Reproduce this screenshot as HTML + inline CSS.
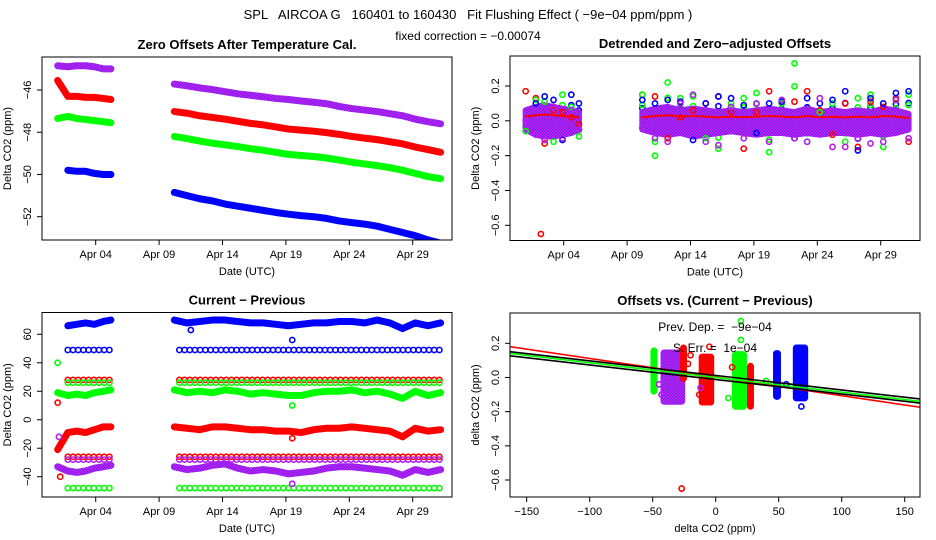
<!DOCTYPE html>
<html><head><meta charset="utf-8"><style>
html,body{margin:0;padding:0;background:#fff;}
svg{display:block;font-family:"Liberation Sans",sans-serif;}
svg text{white-space:pre;}
</style></head><body>
<svg id="c" width="936" height="540" viewBox="0 0 936 540">
<defs><pattern id="pur" width="3" height="3" patternUnits="userSpaceOnUse"><rect width="3" height="3" fill="#e020f0"/><rect width="1.5" height="1.5" fill="#6020f0"/><rect x="1.5" y="1.5" width="1.5" height="1.5" fill="#6020f0"/></pattern></defs>
</svg>
<script>
// ---- data ----
const T = [1.0,1.8,2.5,3.2,3.9,4.6,5.2, 10.2,11.2,12.2,13.2,14.2,15.2,16.2,17.2,18.2,19.2,20.2,21.2,22.2,23.2,24.2,25.2,26.2,27.2,28.2,29.2,30.2,31.2];
const off_purple = [-44.85,-44.9,-44.85,-44.85,-44.9,-45.0,-45.0, -45.72,-45.8,-45.9,-45.98,-46.08,-46.18,-46.25,-46.32,-46.4,-46.45,-46.52,-46.58,-46.65,-46.78,-46.88,-46.95,-47.02,-47.12,-47.22,-47.38,-47.5,-47.6];
const off_red = [-45.55,-46.3,-46.3,-46.35,-46.35,-46.4,-46.45, -47.02,-47.1,-47.22,-47.3,-47.38,-47.48,-47.58,-47.65,-47.75,-47.85,-47.9,-47.95,-48.02,-48.1,-48.2,-48.28,-48.35,-48.45,-48.55,-48.7,-48.82,-48.95];
const off_green = [-47.35,-47.25,-47.35,-47.4,-47.45,-47.5,-47.55, -48.2,-48.3,-48.42,-48.52,-48.6,-48.68,-48.78,-48.85,-48.95,-49.05,-49.1,-49.15,-49.22,-49.32,-49.42,-49.5,-49.58,-49.68,-49.8,-49.95,-50.1,-50.2];
const off_blue = [null,-49.8,-49.85,-49.85,-49.95,-50.0,-50.0, -50.85,-51.0,-51.15,-51.25,-51.4,-51.5,-51.6,-51.7,-51.8,-51.88,-51.95,-52.0,-52.08,-52.2,-52.28,-52.35,-52.45,-52.6,-52.75,-52.9,-53.1,-53.25];

const det_red = [0.17,0.13,-0.13,0.06,0.05,0.02,-0.02, 0.15,0.14,-0.1,0.02,0.06,0.1,0.14,0.05,-0.16,0.05,0.17,0.1,0.11,0.17,0.06,-0.08,0.1,-0.15,0.11,0.08,0.13,-0.12];
const det_green = [-0.06,0.12,0.11,-0.12,0.15,0.08,-0.09, 0.15,-0.2,0.22,0.13,0.14,-0.1,-0.16,0.1,0.13,0.16,-0.18,0.1,0.33,-0.12,0.05,0.1,-0.12,0.13,0.15,-0.15,0.12,0.15];
const det_blue = [null,0.1,0.14,0.12,-0.11,0.15,0.1, 0.12,0.1,0.12,0.11,-0.11,0.1,0.14,0.13,0.09,-0.07,0.1,0.11,-0.1,0.13,0.1,0.12,0.17,-0.17,0.13,0.1,0.16,0.17];
const det_purple = [0.0,-0.08,-0.11,0.08,-0.1,0.06,-0.05, -0.04,-0.1,-0.12,0.1,0.15,-0.12,-0.14,0.08,-0.1,0.1,-0.12,0.12,-0.1,-0.12,0.13,-0.15,-0.15,-0.1,-0.13,-0.12,0.12,-0.1];
const det_bandHi = [0.06,0.08,0.09,0.08,0.07,0.06,0.05, 0.05,0.07,0.08,0.06,0.07,0.06,0.05,0.06,0.05,0.06,0.07,0.06,0.05,0.07,0.05,0.06,0.05,0.06,0.05,0.07,0.06,0.04];
const det_bandLo = [-0.05,-0.08,-0.09,-0.09,-0.08,-0.07,-0.05, -0.05,-0.07,-0.08,-0.07,-0.09,-0.08,-0.07,-0.06,-0.07,-0.08,-0.07,-0.07,-0.08,-0.07,-0.08,-0.07,-0.07,-0.08,-0.07,-0.08,-0.07,-0.05];
const det_outX = [2.2];
const det_outY = [-0.65];

const cp_blue = [null,66,67,68,67,69,70, 70,68,69,70,70,69,68,68,67,66,67,68,68,69,69,68,70,68,64,68,66,68];
const cp_green = [19,17,18,17,19,20,21, 21,19,20,19,21,20,18,19,18,17,17,19,20,20,21,19,20,18,15,20,17,19];
const cp_red = [-21,-9,-8,-9,-7,-5,-5, -5,-6,-7,-5,-5,-6,-7,-7,-8,-8,-9,-7,-6,-6,-5,-6,-7,-8,-12,-6,-8,-7];
const cp_purple = [-33,-36,-37,-36,-34,-33,-32, -33,-35,-34,-32,-31,-34,-36,-35,-36,-38,-37,-36,-34,-33,-33,-34,-35,-36,-39,-35,-37,-35];
const cp_levels = [49,28,26,-26,-28,-48];
const cp_levelColors = ["#0000ff","#ff0000","#00ff00","#ff0000","#b020f0","#00ff00"];
const cp_segStart = [1.8,10.6];
const cp_segEnd = [5.2,31.2];
const cp_outX = [1.0,1.0,1.1,1.2,19.5,19.5,11.5,19.5,19.5];
const cp_outY = [40,12,-12,-40,56,10,63,-45,-13];
const cp_outC = ["#00ff00","#ff0000","#b020f0","#ff0000","#0000ff","#00ff00","#0000ff","#b020f0","#ff0000"];

const sc_xLo = [-51,-43,-27.5,-12.7,13.7,25.6,46.3,62];
const sc_xHi = [-47,-25,-23.6,-2,24,29.6,51,72.6];
const sc_yLo = [-0.095,-0.154,-0.02,-0.158,-0.183,-0.183,-0.125,-0.134];
const sc_yHi = [0.17,0.158,0.187,0.134,0.148,0.08,0.154,0.187];
const sc_colors = ["#00ff00","url(#pur)","#ff0000","#ff0000","#00ff00","#ff0000","#0000ff","#0000ff"];
const sc_outX = [-27,20,20,-5,-13,-12,-45,-43,68,40,10,-20,-22,13,56];
const sc_outY = [-0.65,0.33,0.22,0.18,-0.1,-0.06,-0.04,-0.1,-0.17,-0.02,-0.12,0.13,0.08,0.06,-0.04];
const sc_outC = ["#ff0000","#00ff00","#00ff00","#ff0000","#ff0000","#b020f0","#b020f0","#b020f0","#0000ff","#00ff00","#00ff00","#ff0000","#ff0000","#ff0000","#0000ff"];
const fit_slopes = [-0.00109,-0.00086,-0.00085,-0.00085];
const fit_ints = [0.0025,0.0,0.012,-0.012];
const fit_colors = ["#ff0000","#00ff00","#000000","#000000"];

const dateTicks = [4,9,14,19,24,29];
const dateLabels = ["Apr 04","Apr 09","Apr 14","Apr 19","Apr 24","Apr 29"];
const p1Ticks = [-46,-48,-50,-52];
const p2Ticks = [0.2,0,-0.2,-0.4,-0.6];
const p2Labels = ["0.2","0.0","\u22120.2","\u22120.4","\u22120.6"];
const p3Ticks = [60,40,20,0,-20,-40];
const p3Labels = ["60","40","20","0","\u221220","\u221240"];
const p4XTicks = [-150,-100,-50,0,50,100,150];
const p4XLabels = ["\u2212150","\u2212100","\u221250","0","50","100","150"];

// ---- drawing ----
const NS="http://www.w3.org/2000/svg";
const svg=document.getElementById('c');
function mk(tag,attrs,parent){const e=document.createElementNS(NS,tag);for(const k in attrs)e.setAttribute(k,attrs[k]);(parent||svg).appendChild(e);return e;}
function lin(va,pa,vb,pb){return v=>pa+(v-va)*(pb-pa)/(vb-va);}
function txt(x,y,s,size,opt,parent){const e=mk('text',{x:x,y:y,'font-size':size,'text-anchor':(opt&&opt.anchor)||'middle',fill:'#000'},parent);if(opt&&opt.bold)e.setAttribute('font-weight','bold');if(opt&&opt.rot)e.setAttribute('transform','rotate(-90 '+x+' '+y+')');e.textContent=s;return e;}

const P=[
 {x0:42,x1:452,y0:57,y1:240, y:lin(-46,90,-52,216.7)},
 {x0:510,x1:920,y0:56,y1:240.5, y:lin(0.2,86,-0.6,225.3)},
 {x0:42,x1:452,y0:312.5,y1:497, y:lin(60,334.3,-40,476.7)},
 {x0:510,x1:920,y0:313,y1:497, y:lin(0.2,343.3,-0.6,480)}
];
P[0].x=lin(4,95.7,29,412.7);P[1].x=lin(4,563.7,29,880.7);P[2].x=lin(4,95.7,29,412.7);P[3].x=lin(-150,526.7,150,904.7);

let t=txt(468,19,"SPL   AIRCOA G   160401 to 160430   Fit Flushing Effect ( \u22129e\u221204 ppm/ppm )",13);


t=txt(468,40,"fixed correction = \u22120.00074",12);



const titles=["Zero Offsets After Temperature Cal.","Detrended and Zero\u2212adjusted Offsets","Current \u2212 Previous","Offsets vs. (Current \u2212 Previous)"];
const ylabels=["Delta CO2 (ppm)","Delta CO2 (ppm)","Delta CO2 (ppm)","delta CO2 (ppm)"];
const xlabels=["Date (UTC)","Date (UTC)","Date (UTC)","delta CO2 (ppm)"];

P.forEach((p,i)=>{
  const g=mk('g',{});
  
  
  p.g=g;
  const cl=mk('clipPath',{id:'clip'+i},g);
  mk('rect',{x:p.x0,y:p.y0,width:p.x1-p.x0,height:p.y1-p.y0},cl);
  p.plot=mk('g',{'clip-path':'url(#clip'+i+')'},g);
  
  
  const tt=txt((p.x0+p.x1)/2,p.y0-8,titles[i],13,{bold:true},g);
  
  
  const yl=txt(p.x0-31,(p.y0+p.y1)/2,ylabels[i],11,{rot:true},g);
  
  
  const xl=txt((p.x0+p.x1)/2,p.y1+35,xlabels[i],11,{},g);
  
  
});

function yAxis(p,ticks,labels){
  ticks.forEach((v,k)=>{const y=p.y(v);
    mk('line',{x1:p.x0-5,x2:p.x0,y1:y,y2:y,stroke:'#000'},p.g);
    const e=txt(p.x0-11,y,labels[k],11,{rot:true},p.g);
    
    
  });
}
function xAxis(p,ticks,labels){
  ticks.forEach((v,k)=>{const x=p.x(v);
    mk('line',{x1:x,x2:x,y1:p.y1,y2:p.y1+5,stroke:'#000'},p.g);
    const e=txt(x,p.y1+18,labels[k],11,{},p.g);
    
    
  });
}
yAxis(P[0],p1Ticks,p1Ticks.map(v=>String(v).replace('-','\u2212')));
yAxis(P[1],p2Ticks,p2Labels);
yAxis(P[2],p3Ticks,p3Labels);
yAxis(P[3],p2Ticks,p2Labels);
[0,1,2].forEach(i=>xAxis(P[i],dateTicks,dateLabels));
xAxis(P[3],p4XTicks,p4XLabels);

function band(p,vals,color,w,name){
  let segs=[],cur=[];
  vals.forEach((v,k)=>{if(v===null)return;
    if(cur.length&&T[k]-cur[cur.length-1][2]>2){segs.push(cur);cur=[];}
    cur.push([p.x(T[k]),p.y(v),T[k]]);});
  if(cur.length)segs.push(cur);
  segs.forEach(s=>{
    const pl=mk('polyline',{points:s.map(q=>q[0]+','+q[1]).join(' '),fill:'none',stroke:color,'stroke-width':w,'stroke-linecap':'round','stroke-linejoin':'round'},p.plot);
    
    
  });
}
function pt(p,x,y,color,name,r){
  const c=mk('circle',{cx:x,cy:y,r:r||2.6,fill:'none',stroke:color,'stroke-width':1.6},p.plot);
  
  
}

// Panel 1
[[off_purple,'url(#pur)','purple'],[off_red,'#ff0000','red'],[off_green,'#00ff00','green'],[off_blue,'#0000ff','blue']].forEach(s=>{
  band(P[0],s[0],s[1],7,'offset-series-'+s[2]);
});

// Panel 2
(function(){
  const p=P[1];
  [[det_blue,'#0000ff','blue'],[det_green,'#00ff00','green']].forEach(s=>{
    s[0].forEach((v,k)=>{if(v===null)return;pt(p,p.x(T[k]),p.y(v*0.6),s[1],'detrended-inner-'+s[2]);});
  });
  [[0,7],[7,29]].forEach(r=>{
    const hi=[],lo=[];
    for(let k=r[0];k<r[1];k++){hi.push(p.x(T[k])+','+p.y(det_bandHi[k]));lo.unshift(p.x(T[k])+','+p.y(det_bandLo[k]));}
    const pg=mk('polygon',{points:hi.concat(lo).join(' '),fill:'url(#pur)',stroke:'url(#pur)','stroke-width':6,'stroke-linejoin':'round'},p.plot);
    
    
  });
  const redMid=det_bandHi.map((v,k)=>v*0.4);
  band(p,redMid,'#ff0000',2,'detrended-red-trace');
  [[det_red,'#ff0000','red'],[det_green,'#00ff00','green'],[det_blue,'#0000ff','blue'],[det_purple,'#b020f0','purple']].forEach(s=>{
    s[0].forEach((v,k)=>{if(v===null)return;pt(p,p.x(T[k]),p.y(v),s[1],'detrended-point-'+s[2]);});
  });
  det_outX.forEach((d,k)=>pt(p,p.x(d),p.y(det_outY[k]),'#ff0000','detrended-outlier'));
})();

// Panel 3
(function(){
  const p=P[2];
  cp_levels.forEach((lv,k)=>{
    cp_segStart.forEach((s,j)=>{
      const xa=p.x(s),xb=p.x(cp_segEnd[j]);
      for(let x=xa;x<=xb;x+=5.2)pt(p,x,p.y(lv),cp_levelColors[k],'level-circle');
    });
  });
  [[cp_blue,'#0000ff','blue'],[cp_green,'#00ff00','green'],[cp_red,'#ff0000','red'],[cp_purple,'url(#pur)','purple']].forEach(s=>{
    band(p,s[0],s[1],7,'difference-series-'+s[2]);
  });
  cp_outX.forEach((d,k)=>pt(p,p.x(d),p.y(cp_outY[k]),cp_outC[k],'difference-outlier'));
})();

// Panel 4
(function(){
  const p=P[3];
  sc_xLo.forEach((xl,k)=>{
    const x=p.x(xl),w=Math.max(3,p.x(sc_xHi[k])-x),y=p.y(sc_yHi[k]),h=p.y(sc_yLo[k])-y;
    const r=mk('rect',{x:x,y:y,width:w,height:h,rx:2.5,fill:sc_colors[k],stroke:sc_colors[k],'stroke-width':2},p.plot);
    
    
  });
  sc_outX.forEach((v,k)=>pt(p,p.x(v),p.y(sc_outY[k]),sc_outC[k],'scatter-outlier'));
  fit_slopes.forEach((m,k)=>{
    const xa=-170,xb=170;
    const l=mk('line',{x1:p.x(xa),y1:p.y(fit_ints[k]+m*xa),x2:p.x(xb),y2:p.y(fit_ints[k]+m*xb),stroke:fit_colors[k],'stroke-width':1.6},p.plot);
    
    
  });
  let e=txt(715,331,"Prev. Dep. =  \u22129e\u221204",12,{},p.g);
  
  
  e=txt(715,352,"S. Err. =  1e\u221204",12,{},p.g);
  
  
})();

P.forEach((p,i)=>{
  const b=mk('rect',{x:p.x0,y:p.y0,width:p.x1-p.x0,height:p.y1-p.y0,fill:'none',stroke:'#000','stroke-width':1},p.g);
  
  
});
</script>
</body></html>
